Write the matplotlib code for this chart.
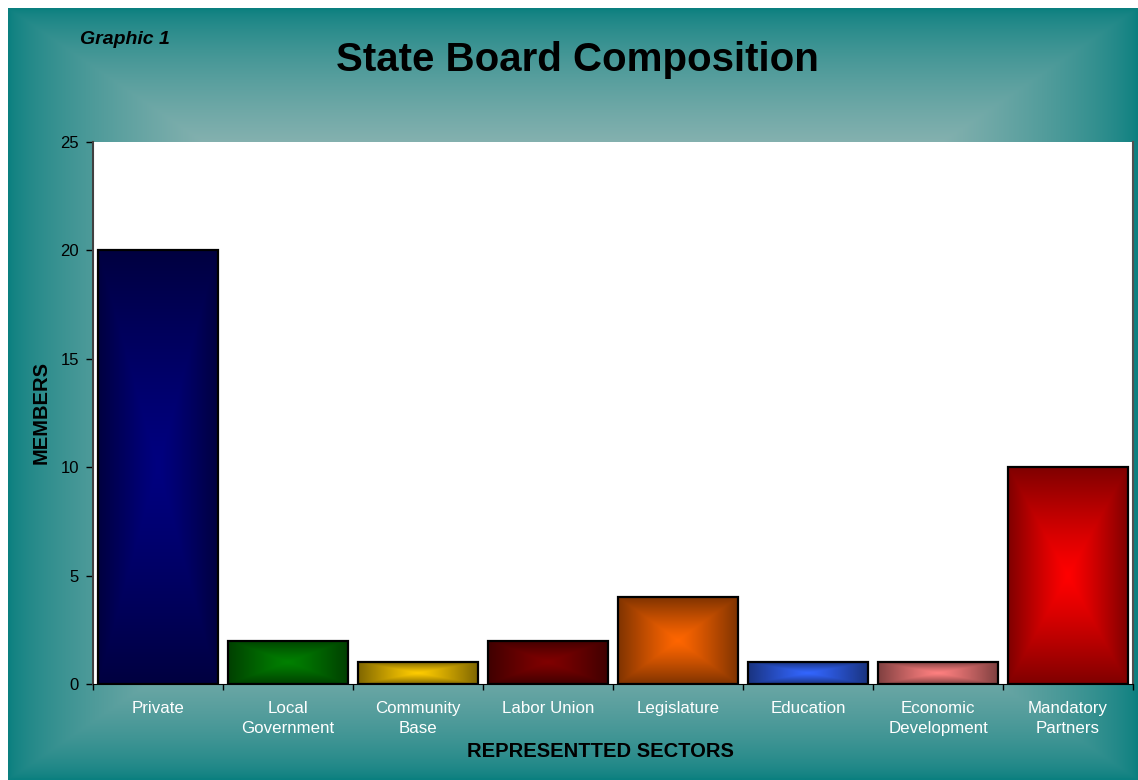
import numpy as np
import matplotlib
matplotlib.use("Agg")
import matplotlib.pyplot as plt
from matplotlib.colors import to_rgb

plt.rcParams['font.family'] = ['Liberation Sans', 'DejaVu Sans']

sectors = ["Private", "Local\nGovernment", "Community\nBase", "Labor Union",
           "Legislature", "Education", "Economic\nDevelopment", "Mandatory\nPartners"]
members = [20, 2, 1, 2, 4, 1, 1, 10]
bar_colors = ["#000080", "#008000", "#ffcc00", "#800000",
              "#ff6600", "#3366ff", "#ff8080", "#ff0000"]


def center_gradient(center, edge, rows, cols, power=1.2):
    # rectangular "from center" fill: bright in the middle, darker toward every edge
    v = np.linspace(-1, 1, rows)[:, None]
    u = np.linspace(-1, 1, cols)[None, :]
    t = np.maximum(np.abs(u), np.abs(v)) ** power
    c = np.array(to_rgb(center))
    e = np.array(to_rgb(edge))
    return c + (e - c) * t[..., None]


fig = plt.figure(figsize=(11.38, 7.8), dpi=100)
W, H = 1138, 780

# teal backdrop with a lighter middle
bg = fig.add_axes([8 / W, 0, 1 - 8 / W, 1 - 8 / H], zorder=-5)
rows, cols = 400, 600
v = np.linspace(-1, 1, rows)[:, None]
u = np.linspace(-1, 1, cols)[None, :]
t = np.maximum(np.abs(u), np.abs(v))
f = np.clip((1 - t) / 0.42, 0, 1) ** 0.7
teal = np.array([10, 127, 127]) / 255
light = np.array([150, 184, 182]) / 255
bg_img = teal + (light - teal) * f[..., None]
bg.imshow(bg_img, aspect='auto', extent=[0, 1, 0, 1], interpolation='bilinear')
bg.set_axis_off()

ax = fig.add_axes([93 / W, (H - 684) / H, (1133 - 93) / W, (684 - 142) / H])
ax.set_facecolor('white')

x = np.arange(len(sectors))
bars = ax.bar(x, members, width=0.923, facecolor='none', edgecolor='black',
              linewidth=1.6, zorder=3)
for rect, col in zip(bars, bar_colors):
    c = np.array(to_rgb(col))
    img = center_gradient(c, c * 0.5, 200, 120)
    bx, by = rect.get_x(), rect.get_y()
    im = ax.imshow(img, extent=[bx, bx + rect.get_width(), by, by + rect.get_height()],
                   aspect='auto', zorder=2, interpolation='bilinear')
    im.set_clip_path(rect)

ax.set_xlim(-0.5, len(sectors) - 0.5)
ax.set_ylim(0, 25)
ax.set_yticks([0, 5, 10, 15, 20, 25])
ax.tick_params(axis='y', direction='out', length=5, width=1, pad=5, labelsize=12,
               colors='black')

# tick marks between categories, labels centred under each bar
ax.set_xticks(np.arange(-0.5, len(sectors), 1))
ax.set_xticklabels([])
ax.set_xticks(x, minor=True)
ax.set_xticklabels(sectors, minor=True, color='white', fontsize=12.2, linespacing=1.45)
ax.tick_params(axis='x', which='major', direction='out', length=4, width=1)
ax.tick_params(axis='x', which='minor', length=0, pad=12)

ax.spines['top'].set_visible(False)
ax.spines['left'].set_color('#404040')
ax.spines['left'].set_linewidth(1.5)
ax.spines['bottom'].set_color('black')
ax.spines['right'].set_color('#505050')
ax.spines['right'].set_linewidth(1.5)

ax.set_ylabel("MEMBERS", fontsize=14.5, fontweight='bold', labelpad=7)
ax.set_xlabel("REPRESENTTED SECTORS", fontsize=14.5, fontweight='bold', labelpad=4,
              x=(600 - 93) / (1133 - 93))

fig.text(577 / W, 1 - 60 / H, "State Board Composition", fontsize=29,
         fontweight='bold', ha='center', va='center')
fig.text(80 / W, 1 - 40 / H, "Graphic 1", fontsize=14, fontweight='bold',
         fontstyle='italic', ha='left', va='center')

fig.savefig("out.png", dpi=100, facecolor='white')
